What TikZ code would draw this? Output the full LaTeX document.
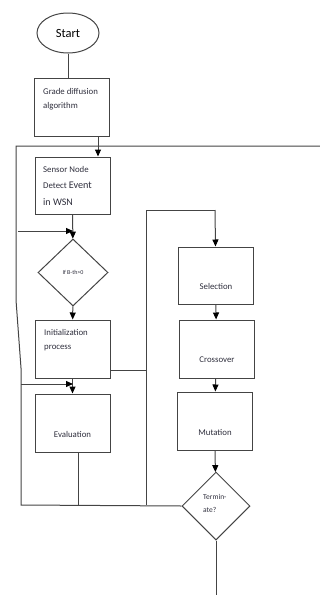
\documentclass[tikz,border=0pt]{standalone}
\usepackage{fontspec}
\setmainfont{Carlito}
\usetikzlibrary{shapes.geometric,arrows.meta}
\definecolor{ln}{HTML}{444444}
\definecolor{tx}{HTML}{2E2E3C}
\begin{document}
\begin{tikzpicture}[x=1pt,y=-1pt,
  box/.style={draw=ln,line width=1pt,minimum width=75pt,minimum height=58pt,inner sep=0pt},
  dia/.style={diamond,draw=ln,line width=1pt,inner sep=0pt},
  conn/.style={draw=ln,line width=1pt},
  arr/.style={conn,-{Triangle[length=7pt,width=6pt,color=black]}},
  txt/.style={text=tx,inner sep=0pt,font=\fontsize{8.8}{11}\selectfont}]
\useasboundingbox (0,0) rectangle (320,595);
% nodes
\node[ellipse,draw=ln,line width=1pt,minimum width=62pt,minimum height=40pt,inner sep=0pt,
      text=black,font=\fontsize{12.5}{14}\selectfont] (start) at (68,33) {Start};
\node[box] (grade) at (71.5,107) {};
\node[box,minimum height=57pt] (sensor) at (72.5,185.5) {};
\node[dia,minimum width=70pt,minimum height=67pt] (dec) at (73,272.5) {};
\node[box] (init) at (72.5,349) {};
\node[box] (eval) at (72.5,423) {};
\node[box,minimum height=57pt] (sel) at (215.5,275.5) {};
\node[box] (cross) at (216.5,349) {};
\node[box] (mut) at (214.5,421) {};
\node[dia,minimum width=68pt,minimum height=68pt] (term) at (216,506) {};
% texts
\node[txt,anchor=base west] (t1) at (43,94) {Grade diffusion};
\node[txt,anchor=base west] (t2) at (43,108) {algorithm};
\node[txt,anchor=base west] (t3) at (43,172) {Sensor Node};
\node[txt,anchor=base west] (t4) at (43,188) {Detect {\fontsize{10.2}{12}\selectfont Event}};
\node[txt,anchor=base west,font=\fontsize{10}{12}\selectfont] (t5) at (43,205) {in WSN};
\node[txt,font=\fontsize{6}{7}\selectfont] (t6) at (dec) {If B-th>0};
\node[txt,anchor=base west] (t7) at (44,335) {Initialization};
\node[txt,anchor=base west] (t8) at (44,349) {process};
\node[txt,anchor=base] (t9) at (72.5,437) {Evaluation};
\node[txt,anchor=base] (t10) at (216,289) {Selection};
\node[txt,anchor=base] (t11) at (217,362) {Crossover};
\node[txt,anchor=base] (t12) at (215,435) {Mutation};
\node[txt,anchor=base west,font=\fontsize{7.5}{9}\selectfont] (t13) at (203,499) {Termin-};
\node[txt,anchor=base west,font=\fontsize{7.5}{9}\selectfont] (t14) at (203,512) {ate?};
% coordinates
\coordinate (tl) at (16,146);
\coordinate (tr) at (320,146);
\coordinate (lm1) at (16,300);
\coordinate (lm2) at (21,368);
\coordinate (bl) at (21,505);
\coordinate (ja) at (18,231);
\coordinate (jb) at (73,231);
\coordinate (jc) at (21,384);
\coordinate (jd) at (73,384);
\coordinate (rv) at (146,505);
\coordinate (rt) at (146,210);
\coordinate (rs) at (215,210);
\coordinate (ri) at (146,370);
\coordinate (eb) at (78,505);
\coordinate (bot) at (216,595);
% connectors
\draw[conn] (start.south) -- (start.south |- grade.north);
\draw[arr] (grade.south -| 98,0) -- (sensor.north -| 98,0);
\draw[conn] (tr) -- (tl) -- (lm1) -- (lm2) -- (bl) -- (term.west);
\draw[arr] (sensor) -- (dec);
\draw[arr] (ja) -- (jb);
\draw[arr] (dec) -- (init);
\draw[arr] (init) -- (eval);
\draw[arr] (jc) -- (jd);
\draw[conn] (eval.south -| 78,0) -- (eb);
\draw[conn] (init.east |- ri) -- (ri);
\draw[conn] (rv) -- (rt) -- (rs);
\draw[arr] (rs) -- (sel.north);
\draw[arr] (sel) -- (cross);
\draw[arr] (cross) -- (mut);
\draw[arr] (mut) -- (term);
\draw[conn] (term) -- (bot);
\end{tikzpicture}
\end{document}
